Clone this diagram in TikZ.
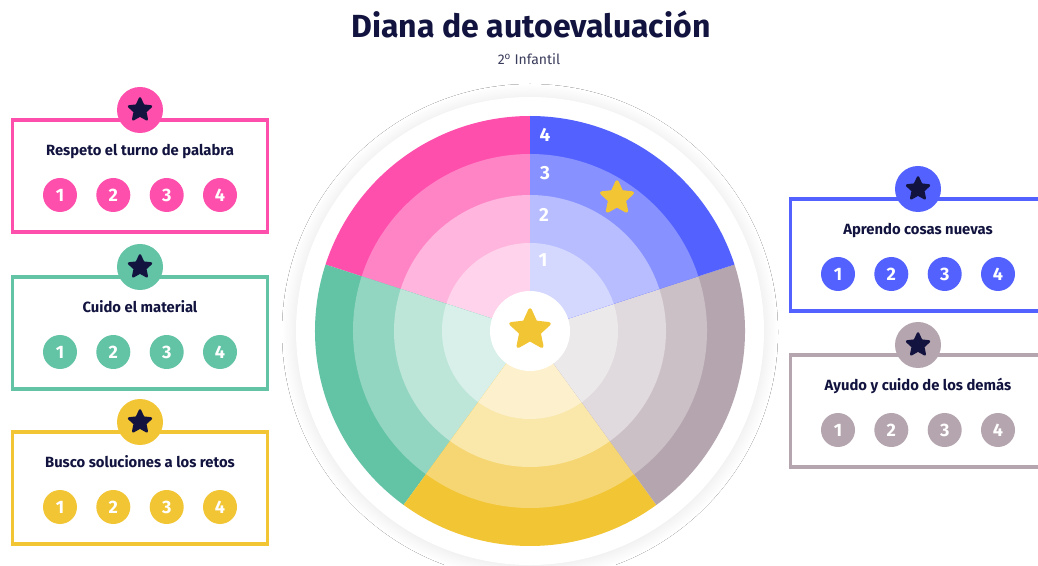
\documentclass[tikz,border=0pt]{standalone}
\usepackage{fontspec}
\setmainfont{Fira Sans}
\usetikzlibrary{shapes.geometric}
\usetikzlibrary{shadows.blur}
\usetikzlibrary{positioning}

\definecolor{navy}{HTML}{12143F}
\definecolor{subgray}{HTML}{3A3C5C}
\definecolor{pinkc}{HTML}{FF4FAD}
\definecolor{bluec}{HTML}{5362FF}
\definecolor{greenc}{HTML}{63C3A5}
\definecolor{yellowc}{HTML}{F2C535}
\definecolor{mauvec}{HTML}{B5A5AE}

\begin{document}
\begin{tikzpicture}[x=1pt,y=1pt]
	%\draw[help lines] (0,0) grid (1038,565);
	\useasboundingbox (0,0) rectangle (1038,565);
	\fill[white] (0,0) rectangle (1038,565);

	\tikzstyle{cbox} = [draw,line width=3.5pt,minimum width=255pt,minimum height=112pt,inner sep=0]
	\tikzstyle{hnode} = [circle,minimum size=46pt,inner sep=0]
	\tikzstyle{dstar} = [star,star points=5,star point ratio=2.1,fill=navy,draw=navy,line width=2.5pt,line join=round,minimum size=23pt,inner sep=0]
	\tikzstyle{ystar} = [star,star points=5,star point ratio=2.1,fill=yellowc,draw=yellowc,line width=3.5pt,line join=round,inner sep=0]
	\tikzstyle{tnode} = [anchor=base,text=navy,font=\bfseries\fontsize{14.8}{16}\selectfont]
	\tikzstyle{nnode} = [circle,minimum size=34pt,inner sep=0,text=white,font=\bfseries\fontsize{18}{20}\selectfont]
	\tikzstyle{wnum} = [text=white,font=\bfseries\fontsize{19}{21}\selectfont]

\node[anchor=base,text=navy,font=\bfseries\fontsize{32}{38}\selectfont] (title) at (531,527) {Diana de autoevaluación};
\node[anchor=base,text=subgray,font=\fontsize{14}{16}\selectfont] (sub) at (529,500) {2\textsuperscript{o} Infantil};

% diana
\coordinate (c) at (530,234);
\fill[white,blur shadow={shadow xshift=0pt,shadow yshift=-1pt,shadow blur radius=14pt,shadow blur steps=20,shadow opacity=10}] (c) circle (234pt);

\fill[pinkc] (c) -- ++(90:215pt) arc (90:162:215pt) -- cycle;
\fill[pinkc!70!white] (c) -- ++(90:177pt) arc (90:162:177pt) -- cycle;
\fill[pinkc!42!white] (c) -- ++(90:136pt) arc (90:162:136pt) -- cycle;
\fill[pinkc!25!white] (c) -- ++(90:88pt) arc (90:162:88pt) -- cycle;

\fill[greenc] (c) -- ++(162:215pt) arc (162:234:215pt) -- cycle;
\fill[greenc!70!white] (c) -- ++(162:177pt) arc (162:234:177pt) -- cycle;
\fill[greenc!42!white] (c) -- ++(162:136pt) arc (162:234:136pt) -- cycle;
\fill[greenc!25!white] (c) -- ++(162:88pt) arc (162:234:88pt) -- cycle;

\fill[yellowc] (c) -- ++(234:215pt) arc (234:306:215pt) -- cycle;
\fill[yellowc!70!white] (c) -- ++(234:177pt) arc (234:306:177pt) -- cycle;
\fill[yellowc!42!white] (c) -- ++(234:136pt) arc (234:306:136pt) -- cycle;
\fill[yellowc!25!white] (c) -- ++(234:88pt) arc (234:306:88pt) -- cycle;

\fill[mauvec] (c) -- ++(306:215pt) arc (306:378:215pt) -- cycle;
\fill[mauvec!70!white] (c) -- ++(306:177pt) arc (306:378:177pt) -- cycle;
\fill[mauvec!42!white] (c) -- ++(306:136pt) arc (306:378:136pt) -- cycle;
\fill[mauvec!25!white] (c) -- ++(306:88pt) arc (306:378:88pt) -- cycle;

\fill[bluec] (c) -- ++(18:215pt) arc (18:90:215pt) -- cycle;
\fill[bluec!70!white] (c) -- ++(18:177pt) arc (18:90:177pt) -- cycle;
\fill[bluec!42!white] (c) -- ++(18:136pt) arc (18:90:136pt) -- cycle;
\fill[bluec!25!white] (c) -- ++(18:88pt) arc (18:90:88pt) -- cycle;

\fill[white] (c) circle (40pt);
\node[ystar,minimum size=40pt] (cs) at (530,235) {};
\node[ystar,minimum size=32pt] (ms) at (617,367) {};

\node[wnum] (w4) at (545,430) {4};
\node[wnum] (w3) at (545,392) {3};
\node[wnum] (w2) at (544,350) {2};
\node[wnum] (w1) at (543,305) {1};

% respeto
\node[cbox,draw=pinkc] (b1) at (140,389) {};
\node[hnode,fill=pinkc] (h1) at (140,455) {};
\node[dstar] (s1) at (h1) {};
\node[tnode] (t1) at (140,409.5) {Respeto el turno de palabra};
\node[nnode,fill=pinkc] (p11) at (60,370) {1};
\node[nnode,fill=pinkc] (p12) at (113.3,370) {2};
\node[nnode,fill=pinkc] (p13) at (166.7,370) {3};
\node[nnode,fill=pinkc] (p14) at (220,370) {4};

% material
\node[cbox,draw=greenc] (b2) at (140,232) {};
\node[hnode,fill=greenc] (h2) at (140,298) {};
\node[dstar] (s2) at (h2) {};
\node[tnode] (t2) at (140,252.5) {Cuido el material};
\node[nnode,fill=greenc] (p21) at (60,213) {1};
\node[nnode,fill=greenc] (p22) at (113.3,213) {2};
\node[nnode,fill=greenc] (p23) at (166.7,213) {3};
\node[nnode,fill=greenc] (p24) at (220,213) {4};

% retos
\node[cbox,draw=yellowc] (b3) at (140,77) {};
\node[hnode,fill=yellowc] (h3) at (140,143) {};
\node[dstar] (s3) at (h3) {};
\node[tnode] (t3) at (140,97.5) {Busco soluciones a los retos};
\node[nnode,fill=yellowc] (p31) at (60,58) {1};
\node[nnode,fill=yellowc] (p32) at (113.3,58) {2};
\node[nnode,fill=yellowc] (p33) at (166.7,58) {3};
\node[nnode,fill=yellowc] (p34) at (220,58) {4};

% cosas nuevas
\node[cbox,draw=bluec] (b4) at (918,310) {};
\node[hnode,fill=bluec] (h4) at (918,376) {};
\node[dstar] (s4) at (h4) {};
\node[tnode] (t4) at (918,330.5) {Aprendo cosas nuevas};
\node[nnode,fill=bluec] (p41) at (838,291) {1};
\node[nnode,fill=bluec] (p42) at (891.3,291) {2};
\node[nnode,fill=bluec] (p43) at (944.7,291) {3};
\node[nnode,fill=bluec] (p44) at (998,291) {4};

% los demas
\node[cbox,draw=mauvec] (b5) at (918,154) {};
\node[hnode,fill=mauvec] (h5) at (918,220) {};
\node[dstar] (s5) at (h5) {};
\node[tnode] (t5) at (918,174.5) {Ayudo y cuido de los demás};
\node[nnode,fill=mauvec] (p51) at (838,135) {1};
\node[nnode,fill=mauvec] (p52) at (891.3,135) {2};
\node[nnode,fill=mauvec] (p53) at (944.7,135) {3};
\node[nnode,fill=mauvec] (p54) at (998,135) {4};
\end{tikzpicture}
\end{document}
